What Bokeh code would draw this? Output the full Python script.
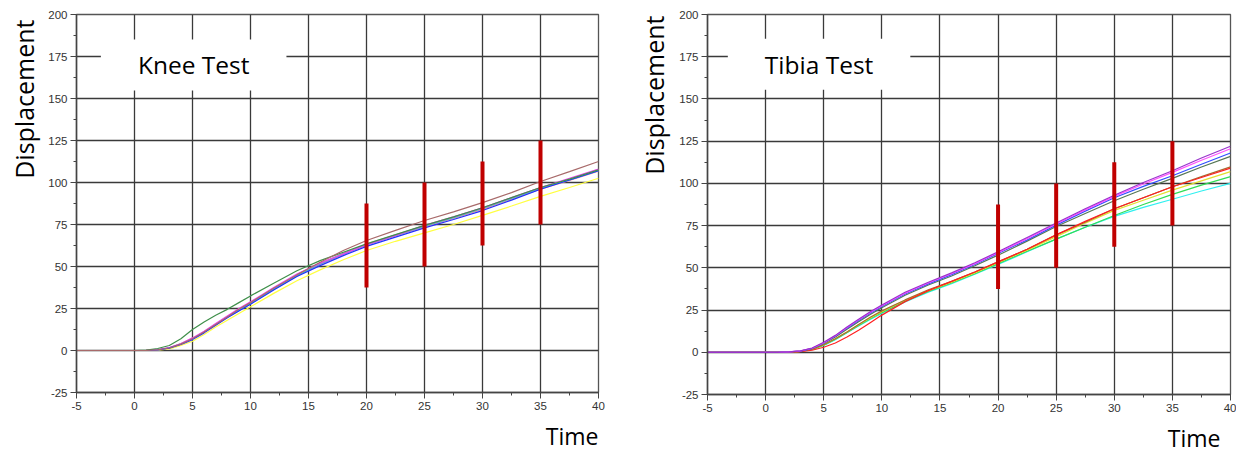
from bokeh.plotting import figure
from bokeh.layouts import row
from bokeh.models import Label, Range1d, SingleIntervalTicker, PrintfTickFormatter, Title
from bokeh.embed import file_html
from bokeh.resources import INLINE

# ---------------- data ----------------
time = [-5, 0, 1, 2, 3, 4, 5, 6, 7, 8, 9, 10, 12, 14, 16, 18, 20, 22.5, 25, 27.5, 30, 32.5, 35, 37.5, 40]

knee_green   = [0, 0, 0.2, 1.2, 3, 7, 12.5, 17, 21, 24.5, 28.5, 32.5, 40, 47.5, 53.5, 58.5, 63.5, 69, 74.5, 79.5, 85, 91, 97, 102, 107.5]
knee_brown   = [0, 0, 0.1, 0.4, 1.5, 3.8, 7, 11, 15.5, 20, 24.5, 28.5, 37, 45, 52.5, 59.5, 65.5, 71.5, 77.4, 82.5, 88, 94, 100.6, 106.5, 112.5]
knee_magenta = [0, 0, 0.1, 0.5, 1.8, 4.2, 7.5, 11.5, 16, 20.5, 25, 29, 37.5, 45.5, 52, 57.5, 63, 68.5, 74.5, 79.5, 85, 91, 97, 102.5, 108]
knee_blue    = [0, 0, 0, 0.3, 1.4, 3.6, 6.5, 10.5, 15, 19.5, 23.5, 27.5, 36, 44, 50.5, 56.5, 62, 67.5, 73, 78, 83.3, 89.5, 96, 101.5, 107]
knee_cyan    = [0, 0, 0, 0.4, 1.6, 4, 7, 11, 15.5, 20, 24, 28, 36.5, 44.5, 51.5, 57.5, 63, 68.5, 74, 79, 84.5, 90.5, 96.5, 101.5, 107]
knee_yellow  = [0, 0, 0, 0.2, 1, 3, 5.5, 9.5, 14, 18, 22, 26, 34, 41.5, 48, 54, 59.5, 65, 70, 75, 80.4, 86, 91.7, 97, 102.5]
knee_olive   = [0, 0, 0.1, 0.4, 1.6, 4, 7.2, 11.2, 15.7, 20.2, 24.4, 28.4, 37, 45, 51.8, 57.8, 63.3, 68.8, 74.2, 79.3, 84.8, 90.8, 96.8, 102, 107.8]
knee_salmon  = [0, 0, 0, 0.3, 1.3, 3.5, 6.8, 10.8, 15.2, 19.7, 23.8, 27.8, 36.3, 44.3, 51.2, 57.2, 62.8, 68.3, 73.6, 78.6, 84, 90, 96, 101.2, 106.8]

tibia_purple  = [0, 0, 0, 0.2, 0.8, 2.5, 5.9, 10, 15, 19.5, 24, 28, 35.5, 41.5, 47, 53, 59.5, 68, 76.5, 85, 93, 100.5, 107.5, 115, 122]
tibia_magenta = [0, 0, 0, 0.2, 0.8, 2.4, 5.7, 9.8, 14.7, 19.2, 23.6, 27.6, 35, 41, 46.5, 52.5, 59, 67.3, 76, 84.3, 92.3, 99.6, 106.5, 113.7, 120.5]
tibia_blue    = [0, 0, 0, 0.2, 0.7, 2.3, 5.5, 9.5, 14.3, 18.8, 23.1, 27.1, 34.5, 40.5, 46, 52, 58.5, 66.5, 75.3, 83.6, 91.5, 98.2, 104.5, 111.3, 118]
tibia_gray    = [0, 0, 0, 0.2, 0.7, 2.2, 5.2, 9.1, 13.7, 18.1, 22.4, 26.4, 33.8, 39.8, 45.2, 51.2, 57.5, 65.8, 74.5, 82.2, 89.7, 96.5, 103, 109.7, 116]
tibia_brown   = [0, 0, 0, 0.1, 0.5, 1.8, 4.5, 8, 12, 16.5, 20.7, 24.5, 31, 37, 42, 47.5, 53.5, 61, 69.5, 77, 85, 91.5, 98, 104, 109.8]
tibia_red     = [0, 0, 0, 0, 0.3, 1.2, 3, 5.5, 9, 13, 17.5, 22, 30, 36.5, 42, 47.5, 53.5, 61, 69.5, 77.5, 85, 91.5, 98, 103.5, 109]
tibia_yellow  = [0, 0, 0, 0.1, 0.5, 1.8, 4.5, 8, 12, 16.3, 20.3, 24, 30.8, 36.5, 41.5, 47, 53, 60.5, 68.5, 76.5, 84, 90, 96, 101.5, 107]
tibia_green   = [0, 0, 0, 0.1, 0.5, 1.7, 4.2, 7.7, 11.7, 15.9, 19.8, 23.5, 30.3, 36, 41, 46.5, 52.5, 59.8, 67, 74, 81, 87.5, 93.5, 99, 104]
tibia_cyan    = [0, 0, 0, 0.1, 0.5, 1.7, 4, 7.5, 11.5, 15.5, 19.4, 23, 29.8, 35.6, 40.6, 46.2, 52, 59.5, 67, 74, 80.5, 85.8, 90.6, 95.5, 100]

bar_time = [20, 25, 30, 35]
bar_low  = [37.5, 50, 62.5, 75]
bar_high = [87.5, 100, 112.5, 125]

knee_series = [knee_olive, knee_salmon, knee_yellow, knee_cyan, knee_magenta, knee_blue, knee_green, knee_brown]
knee_colors = ["#9fbf9f", "#ff8a9a", "#ffff40", "#30c8c8", "#ee40ee", "#2030ff", "#3f8f4a", "#a86a6a"]

tibia_series = [tibia_cyan, tibia_green, tibia_yellow, tibia_brown, tibia_red, tibia_gray, tibia_blue, tibia_magenta, tibia_purple]
tibia_colors = ["#30f0f0", "#30dd55", "#e0e030", "#a86a30", "#ff2020", "#557755", "#3050ff", "#ff50ff", "#9933cc"]

FONT = "Open Sans"
TICK_FONT = "Liberation Sans"


def panel(title, series, colors, border_left, border_right, border_top, fw, fh,
          title_x, title_y, ylab_standoff, ylab_offset, time_offset, time_standoff):
    p = figure(frame_width=fw, frame_height=fh, output_backend="svg", toolbar_location=None,
               x_range=Range1d(-5, 40), y_range=Range1d(-25, 200),
               min_border_left=border_left, min_border_right=border_right,
               min_border_top=border_top, min_border_bottom=4)
    p.xaxis.ticker = SingleIntervalTicker(interval=5, num_minor_ticks=2)
    p.yaxis.ticker = SingleIntervalTicker(interval=25, num_minor_ticks=2)
    for ax in (p.xaxis[0], p.yaxis[0]):
        ax.formatter = PrintfTickFormatter(format="%d")
        ax.axis_line_color = "#444444"
        ax.axis_line_width = 1.5
        ax.major_tick_line_color = "#444444"
        ax.minor_tick_line_color = "#444444"
        ax.major_tick_out = 6
        ax.major_tick_in = 0
        ax.minor_tick_out = 3
        ax.minor_tick_in = 0
        ax.major_label_text_font = TICK_FONT
        ax.major_label_text_font_size = "11.5px"
        ax.major_label_text_color = "#333333"
        ax.major_label_standoff = 3

    p.xgrid.grid_line_color = "#3a3a3a"
    p.ygrid.grid_line_color = "#3a3a3a"
    p.xgrid.grid_line_width = 1.3
    p.ygrid.grid_line_width = 1.3
    p.outline_line_color = "#555555"
    p.outline_line_width = 1.3
    p.background_fill_color = "white"
    p.border_fill_color = "white"

    for s, c in zip(series, colors):
        p.line(time, s, line_color=c, line_width=1.2)

    p.segment(x0=bar_time, y0=bar_low, x1=bar_time, y1=bar_high, line_color="#c00000", line_width=4)

    p.add_layout(Label(x=title_x, y=title_y, text=title, text_font=FONT, text_font_size="24.5px",
                       text_align="center", text_baseline="middle", text_color="black",
                       background_fill_color="white", background_fill_alpha=1.0,
                       padding=dict(left=37, right=37, top=9, bottom=9)))
    p.add_layout(Title(text="Displacement", align="right", offset=ylab_offset, standoff=ylab_standoff,
                       text_font=FONT, text_font_size="25px", text_font_style="normal",
                       text_color="black"), "left")
    p.add_layout(Title(text="Time", align="right", offset=time_offset, standoff=time_standoff,
                       text_font=FONT, text_font_size="23px", text_font_style="normal",
                       text_color="black"), "below")
    return p


p1 = panel("Knee Test", knee_series, knee_colors, 76, 21, 12, 522, 378,
           5.1, 170, 9, 5, 0, 11)
p2 = panel("Tibia Test", tibia_series, tibia_colors, 88, 6, 14, 523, 380,
           4.6, 170.5, 11, 1, 10, 11)

layout = row(p1, p2, spacing=0)
open("out.html", "w").write(file_html(layout, INLINE))
